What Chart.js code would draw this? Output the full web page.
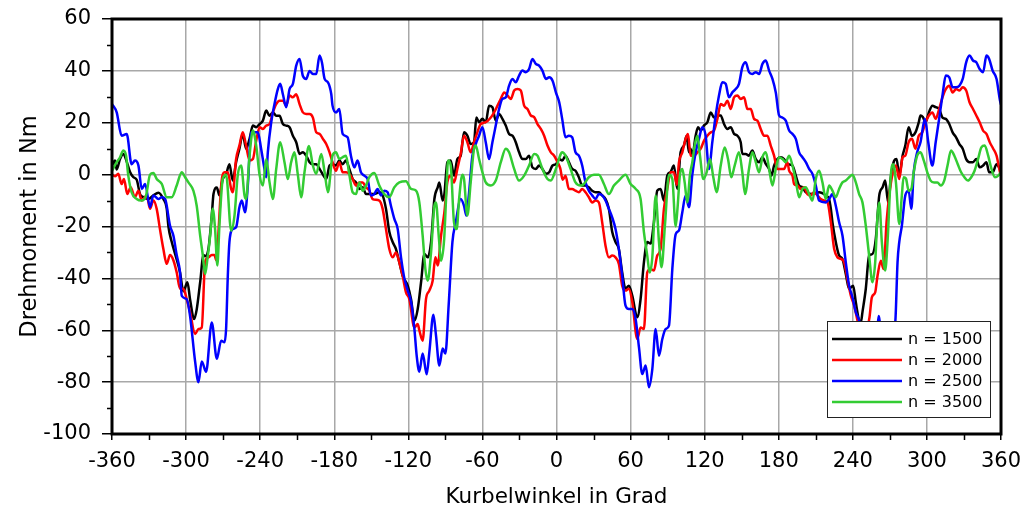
<!DOCTYPE html>
<html>
<head>
<meta charset="utf-8">
<script src="https://cdn.jsdelivr.net/npm/chart.js@4"></script>
<style>
  html, body { margin: 0; padding: 0; background: #ffffff; overflow: hidden; }
  canvas { display: block; }
</style>
</head>
<body>
<canvas id="c" width="1025" height="505"></canvas>
<script>
// ---- axis configuration ----
const xTitle = 'Kurbelwinkel in Grad';
const yTitle = 'Drehmoment in Nm';
const xRange = [-360, 360];
const xStep = 60;
const xMinorTicks = [-330, -270, -210, -150, -90, -30, 30, 90, 150, 210, 270, 330];
const yRange = [-100, 60];
const yStep = 20;
const yMinorTicks = [-90, -70, -50, -30, -10, 10, 30, 50];

const seriesLabels = ['n = 1500', 'n = 2000', 'n = 2500', 'n = 3500'];
const seriesColors = ['#000000', '#ff0000', '#0000ff', '#33cc33'];

// ---- readings: [Kurbelwinkel (Grad), Drehmoment (Nm)] ----
const n1500 = [[-360,3.5],[-357.6,5.4],[-356.2,2],[-353.5,6],[-350.8,8],[-348.1,5],[-345.4,1],[-342.7,-1],[-340,-2],[-337.3,-7.5],[-334.6,-8.7],[-330.5,-9.4],[-326.5,-8],[-322.4,-7],[-318.4,-9.4],[-315.7,-13],[-314.3,-20],[-311.6,-26],[-308.9,-30.6],[-304.9,-37.7],[-302.2,-45],[-298.9,-41.5],[-296.8,-48],[-293.5,-55.7],[-291.4,-52],[-288.6,-41.5],[-285.9,-31],[-284.6,-31.5],[-281.9,-28.7],[-279.2,-15.8],[-277.8,-7.5],[-275.1,-5],[-273,-8],[-270.3,-1.7],[-267.6,0],[-264.9,4],[-262.2,-2.3],[-259.5,4.8],[-256.8,10],[-254.1,15.7],[-251.4,10],[-248.6,13.8],[-245.9,18.9],[-243.2,18.3],[-240.5,19.5],[-237.8,20.8],[-235.1,24.7],[-232.4,22.7],[-229.7,24],[-227,22.7],[-224.3,22.7],[-221.6,19.5],[-218.9,18.9],[-216.2,18.3],[-213.5,15],[-210.8,12.5],[-208.1,8],[-205.4,8.6],[-202.7,7.3],[-200,4.8],[-197.3,4],[-194.6,4],[-191.9,2.2],[-189.2,0],[-186.5,-1.7],[-183.8,3.5],[-181.4,4],[-178.6,3.5],[-175.9,5.4],[-173.2,4],[-170.5,5.4],[-167.8,2.2],[-165.1,-1.7],[-162.4,-3],[-159.7,-5.5],[-157,-4.9],[-154.3,-7.5],[-147.6,-7.5],[-143.5,-6.8],[-140.8,-8],[-138.1,-13.2],[-135.4,-22],[-132.7,-26],[-130,-28.7],[-127.3,-33.8],[-124.6,-39],[-120.5,-42.8],[-117.8,-48],[-115.1,-56.3],[-112.4,-51.8],[-109.7,-41.5],[-107,-30.6],[-104.3,-31.9],[-101.6,-26],[-98.9,-9.4],[-96.2,-4.9],[-94.9,-3],[-92.2,-10],[-90.8,-7.5],[-88.4,4.8],[-85.7,5.4],[-83,-0.4],[-80.3,6],[-77.6,7.3],[-74.9,16.3],[-72.2,15],[-69.5,11.8],[-66.8,12.5],[-64.9,22],[-62.7,20.2],[-60,21.5],[-57.3,20.2],[-54.6,26.6],[-51.9,26],[-49.2,20.8],[-46.5,23.4],[-43.8,21.5],[-41.1,18.9],[-38.4,15.7],[-35.7,15],[-33,12.5],[-30.3,8.6],[-27.6,6],[-24.9,6],[-22.2,7.3],[-19.5,2.8],[-16.8,2.2],[-14.1,3.5],[-11.4,2.2],[-8.6,0.3],[-5.9,0.9],[-3.2,3.5],[-0.5,4],[2.2,6],[4.6,5.4],[7.3,7.3],[10,4.8],[12.7,2.2],[15.4,1.5],[18.1,-1],[20.8,-4.2],[23.5,-4.2],[26.2,-4.9],[28.9,-6.2],[31.6,-6.8],[34.3,-6.8],[37,-8],[39.7,-9.4],[42.4,-13.2],[45.1,-22],[47.8,-26],[50.5,-28.7],[53.2,-37.7],[55.9,-44],[58.6,-42.8],[61.4,-46.7],[65.4,-55],[68.1,-48],[70.8,-33.8],[73.5,-26],[76.2,-26.6],[78.9,-18.4],[81.6,-6.2],[84.3,-5.5],[87,-10],[89.7,-0.4],[92.4,1],[95.1,3.5],[97.8,-5.5],[100.5,8.6],[103.2,11.2],[105.4,15],[107.3,8.6],[108.6,10],[110,7.3],[112.7,15],[114.6,18.3],[116.8,17],[119.5,19],[122.2,20.2],[124.9,24],[127.6,22],[130.3,22.8],[133,22.8],[135.7,19.5],[138.4,17.6],[141.1,18.3],[143.8,15.7],[146.5,15],[149.2,12.5],[150.5,8],[153.2,8],[155.9,7.3],[158.6,9.3],[161.4,6],[164.1,4.8],[166.8,6.7],[169.5,4.1],[172.2,2.2],[174.1,-0.4],[176.2,3.5],[178.9,6],[181.6,6.7],[184.3,6],[187,4.1],[191.1,3.5],[193.8,-0.4],[196.5,-4.2],[199.2,-4.9],[201.9,-6.8],[207.3,-7.5],[212.7,-6.8],[218.1,-8],[220.8,-9.4],[222.2,-13.2],[223.5,-18.4],[226.2,-26],[228.9,-31.2],[231.6,-32.5],[234.3,-38.3],[237,-44],[240.3,-42.8],[242.4,-49.2],[245.1,-56.3],[246.5,-57],[247.8,-53],[250.5,-44],[253.2,-31.2],[255.9,-30.6],[258.6,-24.8],[261.4,-8],[264.1,-4.9],[266.2,-2.3],[268.6,-10.7],[270.8,-0.9],[273.5,5.4],[275.4,6],[277.6,-0.4],[280.3,7.3],[282.5,11.2],[285.2,18.3],[287.9,15],[290.7,16.3],[293.4,20.2],[294.8,22.8],[296.7,22.2],[298.9,20.2],[301.6,24],[304.4,26.6],[307.1,26],[309.9,25.3],[312.6,22],[315.3,21.5],[318.1,19.5],[320.8,16.3],[323.6,14.4],[326.3,11.8],[329,10],[331.8,6],[334.5,4.8],[337.3,4.8],[340,6],[342.7,2.8],[345.5,3.5],[348.2,4.8],[350.4,0.9],[353.2,0.9],[356.4,4],[359.2,2.2],[360,2]];

const n2000 = [[-360,0],[-357.6,-0.6],[-354.9,0.3],[-352.2,-3.6],[-350.3,-1.7],[-347.6,-7.5],[-344.9,-4.9],[-341.4,-8.7],[-338.6,-6.2],[-335.9,-10],[-331.9,-8],[-329.2,-13.2],[-326.5,-10],[-323.8,-13.2],[-321.1,-21.2],[-318.4,-28.7],[-315.7,-34.4],[-313,-31],[-310.3,-33],[-307.6,-37.7],[-304.9,-44],[-302.2,-44],[-299.5,-48],[-296.8,-53],[-292.7,-61.4],[-290,-59.5],[-287.3,-58.9],[-284.6,-33.8],[-281.9,-31.9],[-279.2,-31],[-277,-31],[-275.5,-33],[-273.5,-20],[-271.6,-4.2],[-268.9,0.9],[-266.2,0.9],[-263.5,-5.5],[-262.2,-6.8],[-259.5,6],[-256.8,11.2],[-254.1,16.3],[-251.4,11.2],[-248.6,5.4],[-245.9,6],[-243.2,13.1],[-240.5,18.3],[-237.8,17.6],[-235.1,18.9],[-232.4,19.5],[-229.7,24],[-227,27.2],[-224.3,28.5],[-221.6,28.5],[-218.9,26.6],[-216.2,30.5],[-213.5,29.8],[-210.8,31],[-208.1,27.2],[-205.4,24],[-202.7,23.4],[-200,23.4],[-197.3,22],[-194.6,16.3],[-191.9,15.7],[-189.2,13.8],[-186.5,11.8],[-183.8,8.6],[-181.4,4.8],[-178.6,1.5],[-175.9,4.8],[-173.2,0.9],[-170.5,0.9],[-167.8,0.3],[-165.1,-1.7],[-162.4,-4.2],[-159.7,-3],[-157,-3],[-154.3,-4.9],[-151.6,-6.2],[-148.9,-9.4],[-143.5,-10],[-140.8,-13.2],[-138.1,-21],[-135.4,-28.7],[-132.7,-31.9],[-130,-30],[-127.3,-33.8],[-124.6,-39],[-121.9,-45.4],[-119.2,-48],[-115.1,-58.9],[-112.4,-57.6],[-111.1,-60],[-108.4,-64],[-105.7,-48],[-103,-44.7],[-100.3,-40.9],[-98.1,-31.9],[-96.2,-35],[-93.5,-23.5],[-90.8,-14.5],[-88.4,-3],[-85.7,-0.4],[-83,-3],[-80.3,2.2],[-77.6,8],[-74.9,15],[-72.2,12.5],[-69.5,8.6],[-66.8,12.5],[-64.1,16.3],[-61.4,19.5],[-57.3,20.2],[-53.2,22],[-50.5,24],[-47.8,26.6],[-45.1,29.2],[-42.4,31.7],[-39.7,30.5],[-37,29.2],[-34.3,32.4],[-31.6,33],[-28.9,32.4],[-26.2,26.6],[-23.5,25.3],[-20.8,22.8],[-18.1,22.2],[-15.4,19.5],[-12.7,17.6],[-10,15],[-7.3,11.2],[-4.6,8.6],[-1.9,7.3],[0.8,4.8],[3,2.5],[5,-2],[7.3,-0.4],[10,-5.5],[12.7,-5.5],[15.4,-6.2],[18.1,-6.8],[20.8,-5.5],[23.5,-6.8],[26.2,-8.7],[28.9,-10.7],[31.6,-10],[34.3,-10.7],[37,-18.4],[39.7,-27.4],[42.4,-31.9],[45.1,-31.2],[47.8,-31.9],[50.5,-34.4],[53.2,-42.8],[55.9,-44.7],[58.6,-44],[61.4,-49.2],[65.4,-63.4],[68.1,-58.9],[70.8,-59.5],[73.5,-37.7],[76.2,-36.4],[78.9,-37],[81.6,-31.2],[84.3,-28.7],[87,-13.2],[89.7,-5.5],[92.4,0.9],[95.1,0.9],[97.5,-4],[99.2,4.8],[101.9,8.6],[104.6,13.8],[106.5,15.7],[108.6,7.3],[111.4,7.3],[114.1,8.6],[116.8,10],[119.5,13.1],[122.2,15],[124.9,16.3],[127.6,17],[130.3,21.5],[133,27.2],[135.7,26.6],[138.4,28.5],[141.1,25.3],[143.8,29.8],[146.5,30.5],[149.2,29.2],[151.9,29.8],[154.6,25.3],[157.3,25.3],[160,21.5],[162.7,20.8],[165.4,17.6],[168.1,15],[170.8,15],[173.5,11.2],[176.2,7.3],[178.9,2.2],[181.6,2.2],[184.3,2.2],[187,4.8],[188.4,1.5],[191.1,-0.4],[192.4,-3.6],[195.1,-4.2],[197.8,-5.5],[200.5,-4.9],[203.2,-7.5],[205.9,-8],[208.6,-6.8],[211.4,-8],[214.1,-9.4],[216.8,-10],[219.5,-10.7],[222.2,-18.4],[224.9,-28.7],[227.6,-31.9],[230.3,-32.5],[233,-33.8],[235.7,-40.5],[238.4,-46.7],[241.1,-50.5],[243.8,-56.3],[246.5,-61],[249,-64],[251.5,-60],[253.5,-55],[255.4,-47.3],[258.1,-45.4],[260,-39],[262.7,-33.2],[264.9,-36.4],[267.3,-18.4],[269.5,-8],[272.2,0.3],[274.9,3.5],[277.6,-1.7],[280.3,6.7],[282.5,7.3],[285.2,12.5],[287.9,13.8],[290.7,10],[293.4,15],[296.2,16.3],[298.9,20.2],[301.6,22.8],[304.4,24],[307.1,21.5],[309.9,25.3],[312.6,29.8],[315.3,33],[318.1,34.3],[320.8,31.7],[323.6,33],[326.3,32.4],[329,33.7],[331.8,32.4],[334.5,27.9],[337.3,25.3],[340,22.8],[342.7,20.2],[345.5,17],[348.2,15.7],[350.9,12.5],[353.7,10],[356.4,7.3],[359.2,0.9],[360,0]];

const n2500 = [[-360,27.2],[-356.2,24],[-352.2,15],[-348.1,15.7],[-344.1,4],[-341.4,5.4],[-338.6,3.5],[-335.9,-5.5],[-333.2,-3.6],[-329.2,-12.6],[-326.5,-8],[-322.4,-9.4],[-319.7,-8.7],[-317,-9.4],[-313,-19.7],[-310.3,-23.5],[-307.6,-31],[-304.9,-37.7],[-303.5,-46.7],[-299.5,-48],[-296.8,-54.4],[-292.7,-72],[-290,-80],[-287.3,-72],[-283.8,-76],[-279.2,-57],[-275.1,-71],[-271.6,-64],[-268.9,-64.6],[-267.6,-59.5],[-266.2,-39],[-264.9,-26],[-262.2,-21],[-259.5,-20.3],[-256.8,-12.6],[-254.9,-10],[-252.2,-14.5],[-250,-4.2],[-247.3,16.3],[-244.6,16.3],[-241.9,16.3],[-239.2,9.9],[-236.5,2.2],[-235.1,-1],[-233.8,8.6],[-231.1,20],[-228.4,27.2],[-225.7,33],[-223.8,35],[-221.6,31],[-218.9,26],[-216.2,33],[-213.5,35],[-210.8,42],[-208.1,44.6],[-205.4,38],[-202.7,36.9],[-200,40],[-197.3,38.8],[-194.6,38.8],[-191.9,45.9],[-190,43.3],[-187.8,36.9],[-185.1,35.6],[-182.4,31],[-181.4,26.6],[-178.6,24],[-175.9,25.3],[-173.2,15.7],[-169.2,14.4],[-166.5,7.3],[-163.8,2.8],[-161.1,5.4],[-158.4,0.9],[-155.7,-0.4],[-153,-1.7],[-150.3,-8],[-147.6,-7.5],[-144.9,-5.5],[-142.2,-8],[-139.5,-6.2],[-136.8,-6.8],[-134.1,-12],[-131.4,-17],[-128.6,-21],[-125.9,-32],[-123.2,-40],[-120.5,-44.7],[-117.8,-49],[-115.1,-59.5],[-113.2,-70],[-111.1,-76],[-108.4,-69],[-105.1,-77],[-103,-68.5],[-99.7,-54],[-97.6,-62],[-94.9,-73.6],[-92.2,-67],[-90,-69],[-87.3,-50],[-84.3,-26],[-81.6,-18.4],[-77.6,-9.4],[-74.9,-12],[-73,-15.8],[-70.8,-6.8],[-68.1,7.3],[-65.4,11.8],[-62.7,15],[-60,18.3],[-57.3,12.5],[-54.6,6],[-51.9,12.5],[-49.2,18.9],[-46.5,25.3],[-43.8,29.2],[-41.1,29.8],[-38.4,34.3],[-35.7,36.9],[-33,35.6],[-30.3,38.2],[-27.6,40.1],[-24.9,39.5],[-22.2,40.7],[-19.5,44.6],[-16.8,42.7],[-14.1,42],[-11.4,40.1],[-8.6,36.9],[-5.9,37.5],[-3.2,36.2],[-0.5,31.7],[2.2,27.9],[4.6,21.5],[7.3,14.4],[10,15],[12.7,14.4],[15.4,8.6],[18.1,7.3],[20.8,3.5],[23.5,-3],[26.2,-6.2],[28.9,-8],[31.6,-9.4],[34.3,-7.5],[37,-8],[39.7,-10],[42.4,-13.2],[45.1,-16.5],[47.8,-21],[50.5,-28.7],[53.2,-39],[55.9,-50.5],[58.6,-51.8],[61.4,-51.8],[64.1,-55.7],[66.8,-66.6],[69.5,-76.9],[72.2,-73.6],[74.9,-82],[77.6,-75],[80.3,-59.5],[83,-69.8],[85.7,-63.4],[88.4,-59.5],[91.1,-58.2],[93.8,-36.4],[96.5,-23],[99.2,-21.5],[101.9,-14.5],[104.6,-8],[107.3,-12.6],[110,0],[112.7,8.6],[115.4,13.8],[118.1,18.3],[120.8,15],[123.5,2.2],[126.2,12.5],[128.9,22.8],[131.6,30.5],[134.3,35.6],[137,35],[139.7,29.8],[142.4,31.7],[145.1,33],[147.8,35],[150.5,41.4],[153.2,43.3],[155.9,39.5],[158.6,38.8],[161.4,39.5],[164.1,38.8],[166.8,42.7],[169.5,44],[172.2,40.1],[174.9,36.9],[177.6,31.7],[180.3,22.8],[183,22],[185.7,20.8],[188.4,17],[191.1,15.7],[193.8,13.8],[196.5,8.6],[199.2,6.7],[201.9,4.8],[204.6,2.2],[207.3,0.3],[210,-4.2],[212.7,-10],[218.1,-10.7],[220.8,-9.4],[223.5,-7.5],[226.2,-12],[228.9,-18.4],[231.6,-23.5],[234.3,-33.8],[237,-42.8],[239.7,-47.3],[242.4,-53],[245.1,-56.3],[248,-64],[250.5,-75],[253,-72],[256,-80],[258.5,-73],[261,-54.5],[264,-68],[267,-62],[270,-64],[273,-60],[274.5,-56],[276.2,-33.8],[277.6,-26],[279.7,-19.7],[282.5,-8],[285.2,-6.2],[287.4,-13.2],[289.3,0.9],[292.1,8.6],[294.8,12.5],[298.4,21.5],[301.1,12.5],[304.4,3.5],[307.1,12.5],[309.9,21.5],[312.6,30.5],[315.3,38.2],[318.1,37.5],[320.8,33.7],[323.6,33.7],[326.3,34.3],[329,36.9],[331.8,43.3],[334.5,45.9],[337.3,44],[340,43.3],[342.7,40.7],[345.5,39.5],[348.2,45.9],[350.4,44.6],[353.2,40.1],[356.4,36.9],[359.2,28.5],[360,27]];

const n3500 = [[-360,1.5],[-356.2,4.8],[-353.5,6.7],[-350.8,9.3],[-348.6,7.3],[-346.8,-0.4],[-344.1,-6.8],[-340,-9.4],[-335.9,-10],[-332.4,-8],[-329.2,0],[-326.5,0.6],[-323.8,-1.7],[-319.7,-3.6],[-315.7,-8.7],[-311.6,-8.7],[-307.6,-4.2],[-303.5,0.9],[-300.8,-1],[-298.1,-3],[-294.1,-6.2],[-291.4,-12],[-288.6,-23.5],[-286.5,-31],[-284.6,-38.3],[-282.7,-32.5],[-280.5,-23.5],[-278.4,-13.2],[-276.5,-21],[-274.7,-35],[-273,-19.7],[-270.3,-1.7],[-267.6,0],[-263.5,-21.6],[-260.8,-15.8],[-258.1,0],[-255.4,3.5],[-252.7,-8],[-251.4,-9.4],[-248.6,7.3],[-245.9,17],[-243.2,11.2],[-240.5,0],[-237.8,-4.2],[-235.1,6],[-232.4,-3],[-229.7,-9.4],[-227,2.2],[-223.8,12.5],[-220.3,4.8],[-217.6,-1.7],[-214.9,4.8],[-212.2,8.6],[-209.5,0],[-206.8,-8.7],[-204.1,0.9],[-200.5,11],[-197.3,3.5],[-194.6,0.3],[-190.5,8],[-187.8,0.9],[-185.1,-6.8],[-181.4,7.3],[-178.6,8.6],[-175.9,6],[-173.2,6.7],[-170.5,7.3],[-167.8,0],[-165.1,-6.8],[-162.4,-7.5],[-159.7,-3],[-157,-6.2],[-154.3,-4.2],[-151.6,-1],[-147.6,0.6],[-143.5,-4.2],[-139.5,-7.5],[-135.4,-8.7],[-131.4,-4.9],[-127.3,-3],[-121.9,-2.6],[-117.8,-5.5],[-113.8,-6.2],[-111.1,-10.7],[-108.4,-23.5],[-106.2,-36.4],[-104.3,-40.9],[-101.6,-30],[-98.9,-12],[-97.6,-10.7],[-95.4,-23.5],[-93.5,-33.2],[-91,-25],[-89.5,-10],[-87.8,5.4],[-85.7,3.5],[-83,-18.4],[-80.8,-21],[-78.9,-9.4],[-76.2,0],[-74.9,-1.7],[-72.2,-15.8],[-69.5,-3],[-66.8,10],[-65.4,11.2],[-62.7,6],[-60,0.9],[-57.3,-3],[-53.2,-4.2],[-49.2,-2.3],[-45.1,4.8],[-41.1,10],[-38.4,8.6],[-34.3,2.2],[-30.3,-2.3],[-26.2,-0.4],[-22.2,3.5],[-18.1,8],[-15.4,7.3],[-11.4,2.2],[-7.3,-1.7],[-4.6,-2.3],[-0.5,2.2],[3.5,8],[4.6,8.6],[7.3,7.3],[11.4,2.2],[15.4,-3],[19.5,-4.2],[22.2,-3.6],[26.2,-1],[30.3,0],[34.3,0],[38.4,-3.6],[42.4,-7.5],[46.5,-4.2],[50.5,-2.3],[55.9,0],[60,-3.6],[64.1,-5.5],[68.1,-9.4],[70.8,-22.2],[73.5,-31.2],[75.4,-37.7],[77.6,-31.9],[80.3,-8],[83,-26],[85.1,-35.7],[87.8,-19.7],[91.1,0],[93.8,-1.7],[96.5,-20],[98,-13],[100,0],[101.9,2.2],[103.8,-3],[105.9,-10.7],[108.1,0],[110,4.8],[111.9,11.2],[114.1,15],[116.2,7.3],[118.9,-1.7],[121.6,0.9],[124.3,6],[127,-1],[129.7,-6.8],[133,3.5],[136.2,10.5],[138.9,6],[141.6,-1],[144.3,3.5],[147.8,8.6],[150.5,0.9],[152.7,-7.5],[155.9,2.2],[158.6,8.6],[161.4,4.8],[164.1,0.9],[166.8,6.7],[169.5,8.6],[172.2,2.2],[174.9,-4.2],[177.6,2.2],[180.3,6.7],[183,6],[185.7,4.8],[188.4,7.3],[191.1,3.5],[193.8,-2.3],[196.5,-8.7],[199.2,-5.5],[201.9,-4.9],[204.6,-7.5],[207.3,-10],[210,-1.7],[212.7,1.5],[215.4,-3],[218.1,-9.4],[220.8,-4.2],[223.5,-6.2],[226.2,-8.7],[228.9,-5.5],[231.6,-3],[234.3,-2.3],[237,-1],[239.7,0],[242.4,-3],[245.1,-7.5],[247.8,-10.7],[250.5,-19.7],[253.2,-31.2],[255.9,-41.5],[258.1,-33.8],[260,-15.8],[261.4,-10.7],[263.5,-26],[266.2,-37],[268.1,-26],[270.8,0],[272.7,4],[274.9,-3],[277.6,-19],[279.7,-8],[281.1,-1],[283,-1.5],[285.2,-6.2],[287.4,-5.5],[289.3,0.9],[292.1,7.3],[294.8,8.6],[297.5,5.4],[300.3,0.9],[303,-2.3],[305.8,-3],[308.5,-3],[311.2,-4.2],[314,-2.3],[316.7,3.5],[319.5,9.3],[322.2,7.3],[324.9,4.1],[327.7,0.9],[330.4,-1],[333.2,-2.3],[335.9,-1],[338.6,1.5],[341.4,6],[344.1,10.5],[346.8,11.2],[349.6,7.3],[352.3,2.2],[355.1,-1],[357.8,-0.4],[360,1]];

const seriesData = [n1500, n2000, n2500, n3500];

// ---- styling ----
const FONT = '"DejaVu Sans", "Liberation Sans", Arial, sans-serif';
const gridColor = '#a8a8a8';

const frameLegendPlugin = {
  id: 'frameLegend',
  afterDatasetsDraw(chart) {
    const { ctx, chartArea: a, scales } = chart;
    const xs = scales.x, ys = scales.y;
    ctx.save();
    // minor tick marks
    ctx.strokeStyle = '#000';
    ctx.lineWidth = 1.5;
    ctx.beginPath();
    xMinorTicks.forEach(v => {
      const px = Math.round(xs.getPixelForValue(v)) + 0.5;
      ctx.moveTo(px, a.bottom); ctx.lineTo(px, a.bottom + 6);
    });
    yMinorTicks.forEach(v => {
      const py = Math.round(ys.getPixelForValue(v)) + 0.5;
      ctx.moveTo(a.left - 5, py); ctx.lineTo(a.left, py);
    });
    ctx.stroke();
    // plot frame
    ctx.lineWidth = 3;
    ctx.strokeRect(a.left, a.top, a.right - a.left, a.bottom - a.top);
    // legend box (inside plot, bottom right)
    const bw = 163, bh = 96;
    const bx = a.right - 11 - bw, by = a.bottom - 17 - bh;
    ctx.fillStyle = '#ffffff';
    ctx.fillRect(bx, by, bw, bh);
    ctx.lineWidth = 1;
    ctx.strokeStyle = '#222';
    ctx.strokeRect(bx + 0.5, by + 0.5, bw, bh);
    ctx.font = '16px ' + FONT;
    ctx.textBaseline = 'middle';
    ctx.textAlign = 'left';
    seriesLabels.forEach((lab, i) => {
      const yy = by + 18 + i * 21;
      ctx.strokeStyle = seriesColors[i];
      ctx.lineWidth = 2.5;
      ctx.beginPath();
      ctx.moveTo(bx + 5, yy); ctx.lineTo(bx + 75, yy);
      ctx.stroke();
      ctx.fillStyle = '#000';
      ctx.fillText(lab, bx + 81, yy + 1);
    });
    ctx.restore();
  }
};

new Chart(document.getElementById('c'), {
  type: 'line',
  data: {
    datasets: seriesData.map((pts, i) => ({
      label: seriesLabels[i],
      data: pts.map(([ang, nm]) => ({ x: ang, y: nm })),
      borderColor: seriesColors[i],
      backgroundColor: seriesColors[i],
      borderWidth: 2.5,
      pointRadius: 0,
      fill: false,
      cubicInterpolationMode: 'monotone',
      order: seriesData.length - i
    }))
  },
  options: {
    responsive: false,
    animation: false,
    devicePixelRatio: 1,
    layout: { padding: { top: 19, right: 24, left: 0, bottom: 0 } },
    plugins: { legend: { display: false }, tooltip: { enabled: false } },
    scales: {
      x: {
        type: 'linear',
        min: xRange[0], max: xRange[1],
        ticks: { stepSize: xStep, color: '#000', font: { family: FONT, size: 21 }, padding: 9, maxRotation: 0, autoSkip: false },
        grid: { color: gridColor, lineWidth: 1.5, tickColor: '#000', tickLength: 6, tickWidth: 1.5 },
        border: { display: false },
        title: { display: true, text: xTitle, color: '#000', font: { family: FONT, size: 21.5 }, padding: { top: 0, bottom: -5 } },
        afterFit(scale) { scale.height = 71; scale.paddingLeft = 0; scale.paddingRight = 0; }
      },
      y: {
        min: yRange[0], max: yRange[1],
        ticks: { stepSize: yStep, color: '#000', font: { family: FONT, size: 21 }, padding: 11, autoSkip: false },
        grid: { color: gridColor, lineWidth: 1.5, tickColor: '#000', tickLength: 10, tickWidth: 1.5 },
        border: { display: false },
        title: { display: true, text: yTitle, color: '#000', font: { family: FONT, size: 22.5 }, padding: { top: 17, bottom: 0 } },
        afterFit(scale) { scale.width = 112; scale.paddingTop = 0; scale.paddingBottom = 0; }
      }
    }
  },
  plugins: [frameLegendPlugin]
});
</script>
</body>
</html>
